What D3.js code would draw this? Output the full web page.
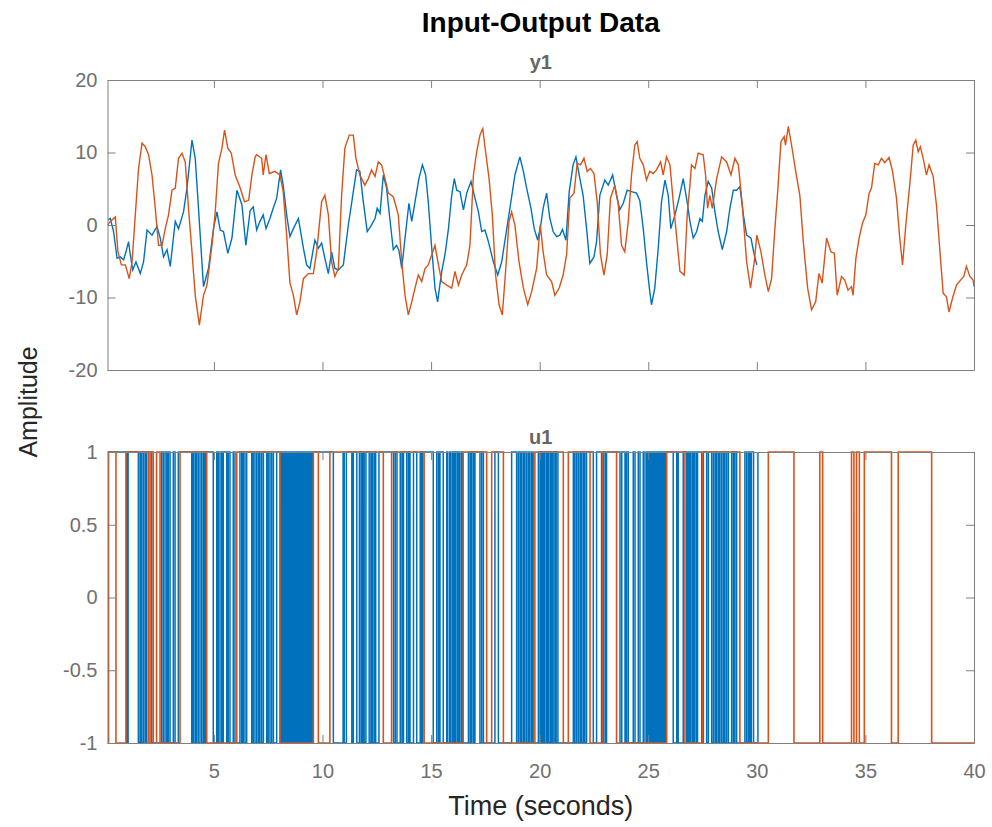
<!DOCTYPE html>
<html><head><meta charset="utf-8">
<script src="https://cdn.jsdelivr.net/npm/d3@7"></script>
<style>body{margin:0;background:#fff} svg text{font-family:"Liberation Sans",Arial,Helvetica,sans-serif}</style>
</head><body>
<svg id="chart" width="992" height="827"></svg>
<script>
// ---- y1 (output) experiment 1 (blue) ----
const y1Exp1Time = [0.1,0.23,0.38,0.54,0.69,0.84,0.95,1.07,1.15,1.26,1.41,1.61,1.76,1.92,2.15,2.38,2.53,2.68,2.84,2.99,3.22,3.37,3.6,3.76,3.99,4.14,4.29,4.52,4.75,4.98,5.14,5.29,5.44,5.64,5.83,6.06,6.29,6.47,6.67,6.81,6.97,7.12,7.27,7.4,7.58,7.73,7.89,8.07,8.19,8.35,8.5,8.66,8.89,9.12,9.27,9.42,9.65,9.81,9.96,10.11,10.27,10.42,10.57,10.73,10.96,11.19,11.42,11.57,11.72,11.88,12.06,12.22,12.42,12.52,12.65,12.8,12.95,13.1,13.26,13.41,13.52,13.65,13.8,13.98,14.11,14.26,14.44,14.6,14.75,14.87,15.03,15.18,15.3,15.49,15.64,15.8,15.95,16.07,16.18,16.33,16.49,16.64,16.84,17.02,17.18,17.33,17.48,17.64,17.87,18.07,18.25,18.44,18.63,18.86,19.09,19.25,19.4,19.6,19.75,19.91,20.05,20.16,20.32,20.47,20.62,20.78,20.93,21.05,21.21,21.36,21.54,21.67,21.82,22.0,22.16,22.31,22.5,22.62,22.77,23.0,23.16,23.36,23.54,23.69,23.85,24.03,24.23,24.46,24.61,24.77,24.92,25.07,25.15,25.3,25.46,25.61,25.77,25.92,26.04,26.23,26.42,26.61,26.79,26.92,27.07,27.23,27.38,27.49,27.61,27.76,27.92,28.07,28.22,28.41,28.61,28.76,28.92,29.07,29.22,29.38,29.53,29.73,29.88,30.0];
const y1Exp1Value = [0.7,0.9,-0.9,-4.6,-4.4,-4.8,-3.7,-2.3,-4.1,-6.2,-5.1,-6.7,-5.1,-0.7,-1.4,-0.2,-1.8,-4.4,-3.4,-5.7,0.5,-0.5,1.8,5.1,11.7,9.2,2.3,-8.5,-6,-0.5,1.8,-0.7,-0.9,-3.9,-1.8,4.8,2.8,-2.8,2.0,2.5,-0.7,0.5,1.4,-0.5,0.9,2.3,3.7,7.6,5.5,1.4,-1.6,-0.5,0.9,-3.2,-5.5,-6,-2.1,-3.2,-2.5,-4.6,-6.7,-3.7,-6,-6.2,-5.5,0,4.6,7.6,7.4,3.2,-0.9,-0.2,0.9,2.3,1.6,6.9,5.1,0.9,-3.4,-2.8,-3.5,-6,-1.8,3,0.5,3.2,6.4,8.3,6.9,3.2,-3.2,-8.7,-10.6,-6.4,-4.1,-0.5,4.1,6.4,4.8,4.6,2.1,4.4,6,3.7,1.8,-0.9,-0.7,-2.3,-5.1,-6.9,-5.1,-1.4,2.3,6.9,9.4,7.4,5.1,2.3,-0.5,-2.1,0,2.3,4.4,0.9,-0.9,-1.6,-1.4,-0.6,-2.1,4.6,8.3,9.4,6.9,4.1,-0.5,-5.3,-4.4,-2.3,4.1,6.2,5.5,6.9,4.1,2.1,3,4.8,4.6,4.4,3.4,-0.5,-5.1,-9.2,-11,-8.7,-3.2,3.2,6.2,4.1,-0.5,1.4,3.7,6.4,3.2,0.5,-1.8,-0.9,0.9,0.5,4.1,6,5.1,1.8,-0.9,-3.4,-0.9,2.3,4.8,4.8,5.3,1.4,-1.4,-1.8,-4.1,-5.5];

// ---- y1 (output) experiment 2 (orange) ----
const y1Exp2Time = [0.1,0.23,0.46,0.58,0.74,0.92,1.1,1.23,1.38,1.53,1.69,1.84,1.99,2.15,2.3,2.45,2.61,2.76,2.91,3.07,3.22,3.37,3.53,3.68,3.83,3.99,4.14,4.33,4.52,4.68,4.91,5.06,5.21,5.37,5.49,5.64,5.8,5.98,6.21,6.41,6.6,6.75,6.9,6.97,7.2,7.27,7.4,7.55,7.81,8.04,8.19,8.35,8.5,8.66,8.81,8.96,9.12,9.35,9.58,9.73,9.96,10.11,10.27,10.42,10.57,10.73,10.88,11.03,11.23,11.42,11.54,11.72,11.95,12.11,12.26,12.42,12.57,12.72,12.88,13.03,13.26,13.49,13.65,13.8,13.95,14.11,14.26,14.41,14.57,14.72,14.87,15.03,15.18,15.34,15.49,15.72,15.95,16.1,16.26,16.41,16.64,16.79,16.95,17.1,17.25,17.38,17.51,17.67,17.82,17.97,18.13,18.28,18.44,18.59,18.71,18.86,19.05,19.25,19.45,19.63,19.86,20.03,20.16,20.32,20.55,20.7,20.9,21.08,21.24,21.39,21.58,21.73,21.88,22.04,22.19,22.34,22.5,22.65,22.8,22.96,23.11,23.26,23.46,23.62,23.77,23.92,24.08,24.23,24.38,24.49,24.61,24.77,24.92,25.07,25.23,25.38,25.57,25.69,25.84,26.0,26.15,26.3,26.46,26.66,26.8,26.92,26.99,27.15,27.3,27.53,27.64,27.73,27.84,27.95,28.15,28.38,28.61,28.81,28.99,29.15,29.33,29.53,29.71,29.88,30.0,30.19,30.37,30.53,30.68,30.83,30.96,31.11,31.26,31.32,31.45,31.6,31.79,31.98,32.14,32.34,32.52,32.71,32.86,33.01,33.21,33.41,33.57,33.7,33.9,34.05,34.2,34.36,34.43,34.56,34.71,34.86,35.02,35.17,35.28,35.43,35.59,35.74,35.89,36.09,36.25,36.43,36.58,36.71,36.86,37.04,37.2,37.32,37.43,37.53,37.66,37.81,37.93,38.12,38.27,38.42,38.58,38.73,38.85,39.01,39.19,39.38,39.53,39.65,39.81,39.96,40.0];
const y1Exp2Value = [0,0.5,1.1,-3.7,-5.5,-5.5,-7.4,-5.1,1.4,7.8,11.3,10.8,9.7,6.9,2.3,-2.8,-2.8,-0.5,1.4,4.8,5.1,9.2,9.9,8.7,2.3,-3.7,-9.7,-13.8,-9.7,-8.3,-2.8,1.8,8.5,10.6,13.1,10.6,9.9,6.9,5.1,3.2,3.4,6.9,9.4,9.7,9.2,6.9,9.7,7.1,7.4,6.9,4.6,-1.4,-8,-9.7,-12.4,-10.6,-7.4,-6.7,-6.7,-3.7,3.2,4.1,1.4,-5.1,-7.1,-6,4.1,10.6,12.4,12.4,9.2,6.9,5.5,6.4,7.6,6.7,8.7,8.3,6.4,4.4,3.9,1.4,-5.1,-9.7,-12.4,-10.6,-8.7,-6.9,-7.8,-6,-5.5,-4.1,-2.8,-5.5,-7.8,-8.3,-8.7,-6.4,-8.3,-6.9,-5.5,-2.8,6.9,10.1,12.4,13.3,10.1,6.4,1.4,-6.9,-11,-12.4,-6,0.5,1.8,0,-5.1,-8.7,-11,-9.2,-6,0,-3.7,-6.9,-7.8,-9.7,-8.7,-6.9,-4.1,3.7,4.4,8.5,8.3,9.2,7.4,7.8,7.1,3.2,-4.1,-6.9,-4.1,3.7,5.5,2.8,-2.8,-3.7,0.5,6.9,11,11.5,9.2,8.3,6.2,7.4,7.1,7.6,8.7,6.9,9.4,8.3,3.2,-1.4,-6.4,-6.9,1.8,5.5,8.3,7.8,9.9,9.7,6.9,2.3,4.1,2.3,6.4,9.4,8.7,6.9,9.2,8.3,2.8,-5.1,-8.7,-5.1,-1.4,-3.7,-6.9,-9.2,-7.4,-0.5,4.6,11.5,12.2,11,13.6,11,7.4,4.1,-2.3,-8.7,-11.7,-10.6,-6.7,-8,-1.8,-3.7,-3.9,-9.7,-7.1,-7.6,-9,-8.5,-9.7,-4.6,-1.8,0.2,1.4,4.4,5.1,8.5,8.3,9.2,8.6,9.3,7.4,3.7,-1.8,-5.5,0,5.5,11,11.7,10.1,10.8,9.2,6.9,8.3,6.7,2.8,-3.2,-9.4,-9.9,-12,-10.1,-8.3,-7.6,-7.1,-5.7,-7.1,-7.6,-8.5];

// ---- u1 (input) : binary levels, initial level + switching instants ----
const u1Exp1Start = 1;
const u1Exp1End = 30.05;
const u1Exp1Switch = [0.98,1.05,1.52,1.6,1.67,1.75,1.83,1.9,2.14,2.59,2.67,2.75,2.83,2.9,2.98,3.13,3.21,3.36,
  3.98,4.05,4.13,4.2,4.28,4.36,4.44,4.52,4.59,4.64,4.97,5.13,5.2,5.28,5.36,5.43,5.59,5.66,5.74,5.89,5.97,
  6.2,6.28,6.35,6.43,6.51,6.74,6.81,6.89,6.97,7.05,7.12,7.2,7.28,7.43,7.5,7.58,7.66,7.74,7.89,
  8.06,8.12,8.19,8.24,8.31,8.36,8.42,8.49,8.54,8.61,8.66,8.72,8.79,8.84,8.9,8.97,9.02,9.08,9.15,9.2,9.26,9.33,9.38,9.44,9.51,9.56,
  10.5,10.95,11.0,11.1,11.35,11.42,11.58,11.7,11.78,11.85,11.92,12.0,12.15,12.23,12.3,12.38,12.45,12.6,
  13.27,13.35,13.43,13.58,13.66,13.73,13.88,13.96,14.03,14.19,14.34,14.5,14.57,14.62,
  15.1,15.26,15.34,15.41,15.56,15.72,15.76,15.85,15.9,15.98,16.05,16.12,16.2,16.26,16.33,16.41,16.45,
  16.72,16.8,16.87,16.95,17.02,17.25,17.33,17.41,17.94,18.1,
  18.71,18.94,19.02,19.1,19.17,19.25,19.32,19.4,19.48,19.55,19.63,19.7,
  19.94,20.02,20.09,20.16,20.22,20.3,20.36,20.42,20.5,20.56,20.62,20.7,20.76,20.84,
  21.55,21.62,21.7,21.78,21.86,21.93,22.01,22.08,22.16,22.47,22.62,22.85,22.93,23.01,23.08,
  23.7,23.78,23.93,24.0,24.08,24.31,24.39,24.54,24.62,24.77,24.85,24.93,
  25.0,25.06,25.12,25.19,25.25,25.31,25.37,25.44,25.5,25.56,25.62,25.69,25.75,25.81,
  26.15,26.31,26.38,26.61,26.77,26.84,26.9,26.97,27.05,27.12,27.2,27.27,
  27.46,27.54,27.69,27.77,27.92,28.0,28.08,28.15,28.23,28.3,28.38,28.46,28.53,28.61,28.69,28.84,28.92,28.99,29.07,
  29.45,29.53,29.61,29.68,29.75,29.85,30.05];
const u1Exp2Start = -1;
const u1Exp2End = 40.0;
const u1Exp2Switch = [0.15,0.49,0.95,1.98,2.06,2.21,2.36,2.52,3.44,4.67,6.05,8.04,9.58,9.81,10.34,12.8,13.18,14.68,16.48,17.56,17.79,18.33,19.78,21.09,21.32,22.32,22.9,23.54,25.85,26.69,27.5,29.22,30.53,31.71,32.9,33.03,34.36,34.47,34.59,34.72,34.95,36.2,36.51,38.05];

// ---- axes / labels ----
const xDomain = [0.1, 40];
const xTickValues = [5,10,15,20,25,30,35,40];
const yTopDomain = [-20, 20];
const yTopTicks = [-20,-10,0,10,20];
const yBotDomain = [-1, 1];
const yBotTicks = [-1,-0.5,0,0.5,1];
const titleText = "Input-Output Data";
const topTitle = "y1", botTitle = "u1";
const xLabel = "Time (seconds)", yLabel = "Amplitude";
const colors = ["#0072BD", "#D95319"];

const svg = d3.select("#chart");
const L = 107.5, R = 974;
const topPanel = {t: 80, b: 370};
const botPanel = {t: 452, b: 743};
const axisColor = "#808080", tickTextColor = "#707070";

const x = d3.scaleLinear().domain(xDomain).range([L, R]);

function stepPoints(start, sw, end, t0) {
  const pts = [[t0, start]];
  let lv = start;
  sw.forEach(s => { pts.push([s, lv]); lv = -lv; pts.push([s, lv]); });
  pts.push([end, lv]);
  return pts;
}

function drawPanel(p, yDom, yTicks, showX, sub) {
  const y = d3.scaleLinear().domain(yDom).range([p.b, p.t]);
  const g = svg.append("g");
  g.append("rect").attr("x", L).attr("y", p.t).attr("width", R - L).attr("height", p.b - p.t).attr("fill", "#fff");
  const fmt = d => String(d).replace("\u2212", "-");
  const axes = [
    d3.axisBottom(x).tickValues(xTickValues).tickSize(-8).tickSizeOuter(0).tickPadding(21).tickFormat(showX ? fmt : () => ""),
    d3.axisTop(x).tickValues(xTickValues).tickSize(-8).tickSizeOuter(0).tickFormat(() => ""),
    d3.axisLeft(y).tickValues(yTicks).tickSize(-8).tickSizeOuter(0).tickPadding(10).tickFormat(fmt),
    d3.axisRight(y).tickValues(yTicks).tickSize(-8).tickSizeOuter(0).tickFormat(() => "")
  ];
  const trans = [`translate(0,${p.b})`, `translate(0,${p.t})`, `translate(${L},0)`, `translate(${R},0)`];
  const clipId = "clip" + p.t;
  svg.append("clipPath").attr("id", clipId).append("rect").attr("x", L).attr("y", p.t - 1).attr("width", R - L).attr("height", p.b - p.t + 2);
  return {y, g, axes, trans, clipId, sub};
}

function finishPanel(P) {
  P.axes.forEach((a, i) => {
    const ag = svg.append("g").attr("transform", P.trans[i]).call(a);
    ag.select(".domain").attr("stroke", axisColor);
    ag.selectAll(".tick line").attr("stroke", axisColor);
    ag.selectAll(".tick text").attr("fill", tickTextColor).style("font-size", "20px");
  });
}

// top panel
const T = drawPanel(topPanel, yTopDomain, yTopTicks, false, topTitle);
const line = d3.line().x(d => x(d[0])).y(d => T.y(d[1]));
const lg = T.g.append("g").attr("clip-path", `url(#${T.clipId})`);
lg.append("path").datum(d3.zip(y1Exp1Time, y1Exp1Value)).attr("d", line).attr("fill", "none").attr("stroke", colors[0]).attr("stroke-width", 1.4);
lg.append("path").datum(d3.zip(y1Exp2Time, y1Exp2Value)).attr("d", line).attr("fill", "none").attr("stroke", colors[1]).attr("stroke-width", 1.4);
finishPanel(T);

// bottom panel
const B = drawPanel(botPanel, yBotDomain, yBotTicks, true, botTitle);
const line2 = d3.line().x(d => x(d[0])).y(d => B.y(d[1]));
const bg = B.g.append("g").attr("clip-path", `url(#${B.clipId})`);
bg.append("path").datum(stepPoints(u1Exp1Start, u1Exp1Switch, u1Exp1End, xDomain[0])).attr("d", line2).attr("fill", "none").attr("stroke", colors[0]).attr("stroke-width", 1.5);
bg.append("path").datum(stepPoints(u1Exp2Start, u1Exp2Switch, u1Exp2End, xDomain[0])).attr("d", line2).attr("fill", "none").attr("stroke", colors[1]).attr("stroke-width", 1.6);
finishPanel(B);

// texts
const cx = (L + R) / 2;
svg.append("text").attr("x", cx).attr("y", 32).attr("text-anchor", "middle").style("font-size", "28px").style("font-weight", "bold").attr("fill", "#000").text(titleText);
svg.append("text").attr("x", cx).attr("y", 69).attr("text-anchor", "middle").style("font-size", "20px").style("font-weight", "bold").attr("fill", "#666").text(topTitle);
svg.append("text").attr("x", cx).attr("y", 444).attr("text-anchor", "middle").style("font-size", "20px").style("font-weight", "bold").attr("fill", "#666").text(botTitle);
svg.append("text").attr("x", cx).attr("y", 815).attr("text-anchor", "middle").style("font-size", "27px").attr("fill", "#262626").text(xLabel);
svg.append("text").attr("transform", `translate(37,402) rotate(-90)`).attr("text-anchor", "middle").style("font-size", "25px").attr("fill", "#262626").text(yLabel);
</script>
</body></html>
